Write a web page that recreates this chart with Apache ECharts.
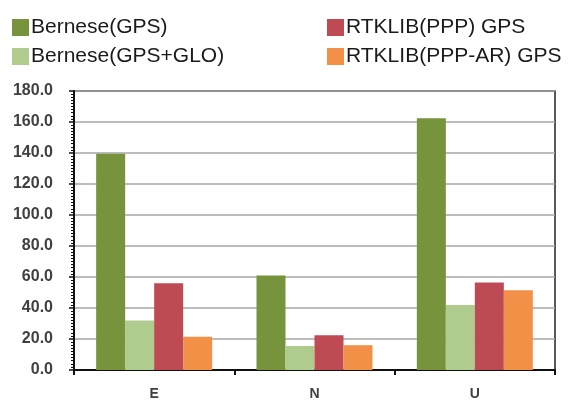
<!DOCTYPE html>
<html>
<head>
<meta charset="utf-8">
<script src="https://cdn.jsdelivr.net/npm/echarts@6/dist/echarts.min.js"></script>
<style>html,body{margin:0;padding:0;background:#fff}#c{width:582px;height:401px}</style>
</head>
<body>
<div id="c"></div>
<script>
const categories = ['E', 'N', 'U'];
const seriesNames = ['Bernese(GPS)', 'Bernese(GPS+GLO)', 'RTKLIB(PPP) GPS', 'RTKLIB(PPP-AR) GPS'];
const berneseGPS = [139.5, 61, 162.5];
const berneseGPSGLO = [32, 15.5, 42];
const rtklibPPP = [56, 22.5, 56.5];
const rtklibPPPAR = [21.5, 16, 51.5];
const yTicks = { min: 0, max: 180, interval: 20 };

const colors = ['#77933C', '#AFCB8E', '#BE4B53', '#F29048'];
const values = [berneseGPS, berneseGPSGLO, rtklibPPP, rtklibPPPAR];

const chart = echarts.init(document.getElementById('c'), null, { renderer: 'canvas' });
const legendText = { fontFamily: 'Liberation Sans, Arial, sans-serif', fontSize: 21, color: '#1a1a1a', lineHeight: 17, padding: [0, 0, 0, -3] };
chart.setOption({
  animation: false,
  color: colors,
  legend: [
    { data: seriesNames.slice(0, 2), orient: 'vertical', left: 12, top: 17, itemWidth: 17, itemHeight: 17, itemGap: 8, icon: 'rect', textStyle: legendText, padding: 0 },
    { data: seriesNames.slice(2, 4), orient: 'vertical', left: 327, top: 17, itemWidth: 17, itemHeight: 17, itemGap: 8, icon: 'rect', textStyle: legendText, padding: 0 }
  ],
  grid: { left: 74, right: 27, top: 91, bottom: 31, show: true, borderColor: '#222', borderWidth: 1.5, containLabel: false },
  xAxis: {
    type: 'category',
    data: categories,
    axisLine: { lineStyle: { color: '#111', width: 2 } },
    axisTick: { show: true, length: 5, lineStyle: { color: '#111', width: 2 } },
    axisLabel: { margin: 17, fontFamily: 'Liberation Sans, Arial, sans-serif', fontWeight: 'bold', fontSize: 14, color: '#404040' }
  },
  yAxis: {
    type: 'value',
    min: yTicks.min, max: yTicks.max, interval: yTicks.interval,
    axisLine: { show: true, lineStyle: { color: '#111', width: 2 } },
    axisTick: { show: true, length: 5, lineStyle: { color: '#111', width: 1.5 } },
    minorTick: { show: true, splitNumber: 10, length: 3, lineStyle: { color: '#111', width: 1 } },
    splitLine: { lineStyle: { color: '#A6A6A6', width: 1.5 } },
    axisLabel: { margin: 21, formatter: v => v.toFixed(1), fontFamily: 'Liberation Sans, Arial, sans-serif', fontWeight: 'bold', fontSize: 16, color: '#404040' }
  },
  series: seriesNames.map((n, i) => ({
    name: n, type: 'bar', data: values[i], barWidth: 29, barGap: '0%',
    itemStyle: { color: colors[i] }
  }))
});
</script>
</body>
</html>
